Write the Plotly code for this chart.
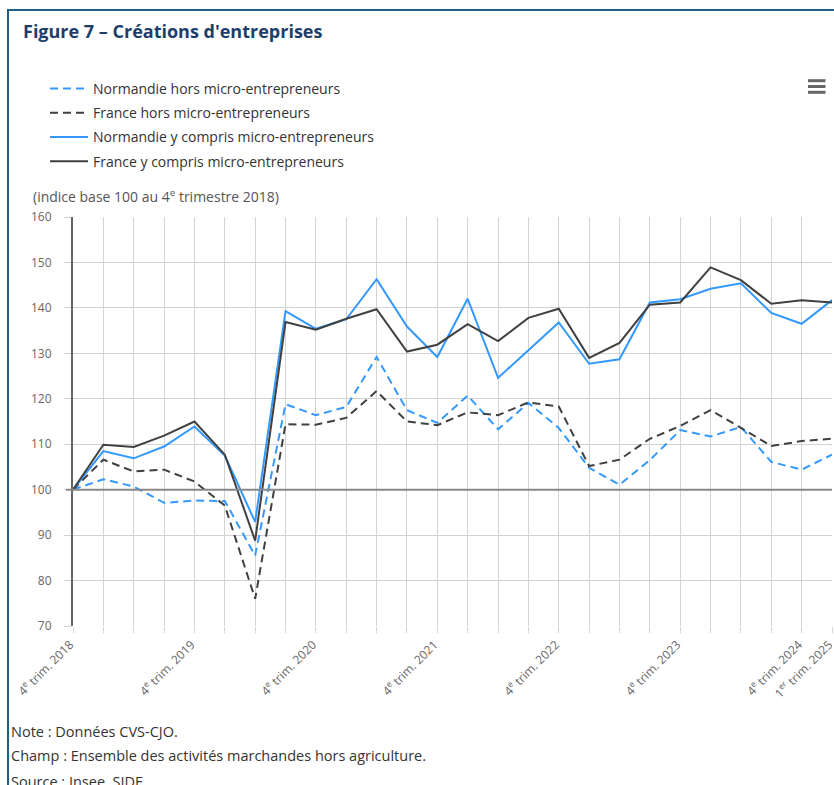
import plotly.graph_objects as go

# ---------------- data ----------------
quarters = ["T4 2018",
            "T1 2019", "T2 2019", "T3 2019", "T4 2019",
            "T1 2020", "T2 2020", "T3 2020", "T4 2020",
            "T1 2021", "T2 2021", "T3 2021", "T4 2021",
            "T1 2022", "T2 2022", "T3 2022", "T4 2022",
            "T1 2023", "T2 2023", "T3 2023", "T4 2023",
            "T1 2024", "T2 2024", "T3 2024", "T4 2024",
            "T1 2025"]

normandie_hors = [100.0, 102.3, 100.7, 97.1, 97.6, 97.5, 85.5, 118.8, 116.4, 118.2,
                  129.2, 117.5, 114.7, 120.7, 113.3, 119.1, 113.6, 104.8, 101.1, 106.5,
                  113.1, 111.7, 113.8, 106.1, 104.4, 107.7]
france_hors = [100.0, 106.6, 104.0, 104.4, 101.8, 96.5, 76.0, 114.4, 114.3, 115.8,
               121.7, 115.0, 114.2, 117.0, 116.4, 119.2, 118.3, 105.2, 106.6, 111.2,
               114.0, 117.5, 113.6, 109.6, 110.7, 111.2]
normandie_total = [100.0, 108.5, 106.9, 109.5, 113.9, 107.5, 92.9, 139.3, 135.4, 137.5,
                   146.3, 135.9, 129.2, 142.0, 124.6, 130.7, 136.8, 127.7, 128.7, 141.2,
                   141.9, 144.2, 145.4, 138.9, 136.5, 141.7]
france_total = [100.0, 109.9, 109.4, 111.9, 115.0, 107.7, 88.8, 136.9, 135.2, 137.6,
                139.7, 130.4, 131.9, 136.4, 132.7, 137.8, 139.8, 129.0, 132.3, 140.7,
                141.2, 148.9, 146.1, 140.9, 141.7, 141.2]

series_names = ["Normandie hors micro-entrepreneurs",
                "France hors micro-entrepreneurs",
                "Normandie y compris micro-entrepreneurs",
                "France y compris micro-entrepreneurs"]

tick_positions = [0, 4, 8, 12, 16, 20, 24, 25]
tick_texts = ["4<sup>e</sup> trim. 2018", "4<sup>e</sup> trim. 2019",
              "4<sup>e</sup> trim. 2020", "4<sup>e</sup> trim. 2021",
              "4<sup>e</sup> trim. 2022", "4<sup>e</sup> trim. 2023",
              "4<sup>e</sup> trim. 2024", "1<sup>er</sup> trim. 2025"]

BASE = 100
Y_MIN, Y_MAX = 70, 160

# ---------------- layout geometry ----------------
W, H = 834, 785
L, R, T, B = 73, 2, 217, 159
PW, PH = W - L - R, H - T - B


def px(xp):
    return (xp - L) / PW


def py(yp):
    return (H - B - yp) / PH


BLUE = "#3399ff"
DARK = "#404040"
GRID = "#d3d3d3"
FONT = "Open Sans, Noto Sans, sans-serif"

xs = list(range(len(quarters)))

fig = go.Figure()
styles = [(normandie_hors, BLUE, "8px,5px"),
          (france_hors, DARK, "8px,5px"),
          (normandie_total, BLUE, "solid"),
          (france_total, DARK, "solid")]
for i, (vals, col, dash) in enumerate(styles):
    fig.add_trace(go.Scatter(
        x=xs, y=vals, mode="lines", name=series_names[i],
        legendgroup=f"g{i}",
        line=dict(color=col, width=2, dash=dash),
        hovertext=quarters, hoverinfo="text+y",
    ))

fig.update_layout(
    width=W, height=H,
    margin=dict(l=L, r=R, t=T, b=B, autoexpand=False),
    paper_bgcolor="white", plot_bgcolor="white",
    font=dict(family=FONT, color="#333"),
    showlegend=True,
    legend=dict(x=px(45), y=py(73), xanchor="left", yanchor="top",
                font=dict(size=14, color="#333", family=FONT),
                traceorder="grouped", tracegroupgap=3, itemwidth=38,
                bgcolor="rgba(0,0,0,0)"),
    xaxis=dict(range=[0, len(quarters) - 1], tickmode="array",
               tickvals=tick_positions, ticktext=tick_texts, tickangle=-45,
               ticklabeloverflow="allow", ticklabelshift=-3,
               showgrid=True, gridcolor=GRID, gridwidth=1,
               ticks="outside", ticklen=6, tickcolor=GRID,
               tickfont=dict(size=12, color="#666", family=FONT),
               minor=dict(tick0=0, dtick=1, showgrid=True, gridcolor=GRID,
                          gridwidth=1, ticks="outside", ticklen=6, tickcolor=GRID),
               zeroline=False, showline=False, fixedrange=True),
    yaxis=dict(range=[Y_MIN, Y_MAX], tickmode="linear", tick0=Y_MIN, dtick=10,
               showgrid=True, gridcolor=GRID, gridwidth=1,
               ticks="outside", ticklen=7, tickcolor=GRID,
               ticklabelstandoff=10,
               tickfont=dict(size=12, color="#666", family=FONT),
               zeroline=False, showline=True, linecolor="#666", linewidth=2,
               fixedrange=True),
)

shapes = [
    # base 100 reference line
    dict(type="line", xref="paper", yref="y", x0=px(66), x1=1, y0=BASE, y1=BASE,
         line=dict(color="#888", width=2), layer="above"),
    # frame
    dict(type="line", xref="paper", yref="paper", x0=px(8), x1=px(8),
         y0=py(9), y1=py(800), line=dict(color="#1f5f80", width=2)),
    dict(type="line", xref="paper", yref="paper", x0=px(7), x1=px(840),
         y0=py(10), y1=py(10), line=dict(color="#1f5f80", width=2)),
]
# hamburger menu icon
for yy in (80.7, 86.5, 92.3):
    shapes.append(dict(type="line", xref="paper", yref="paper",
                       x0=px(808), x1=px(825.5), y0=py(yy), y1=py(yy),
                       line=dict(color="#666", width=3)))
fig.update_layout(shapes=shapes)

annotations = [
    dict(text="<b>Figure 7 – Créations d'entreprises</b>", x=px(21), y=py(31),
         font=dict(size=18, color="#1d3d6b", family=FONT)),
    dict(text="(indice base 100 au 4<sup>e</sup> trimestre 2018)", x=px(31), y=py(196),
         font=dict(size=14, color="#555", family=FONT)),
    dict(text="Note : Données CVS-CJO.", x=px(9), y=py(731),
         font=dict(size=14.5, color="#333", family=FONT)),
    dict(text="Champ : Ensemble des activités marchandes hors agriculture.", x=px(9), y=py(755),
         font=dict(size=14.5, color="#333", family=FONT)),
    dict(text="Source : Insee, SIDE.", x=px(9), y=py(781),
         font=dict(size=14.5, color="#333", family=FONT)),
]
for a in annotations:
    a.update(xref="paper", yref="paper", xanchor="left", yanchor="middle",
             showarrow=False)
fig.update_layout(annotations=annotations)

fig.write_html("out.html", config={"displayModeBar": False},
               post_script="document.body.style.margin='0';"
                           "document.body.style.overflow='hidden';")
